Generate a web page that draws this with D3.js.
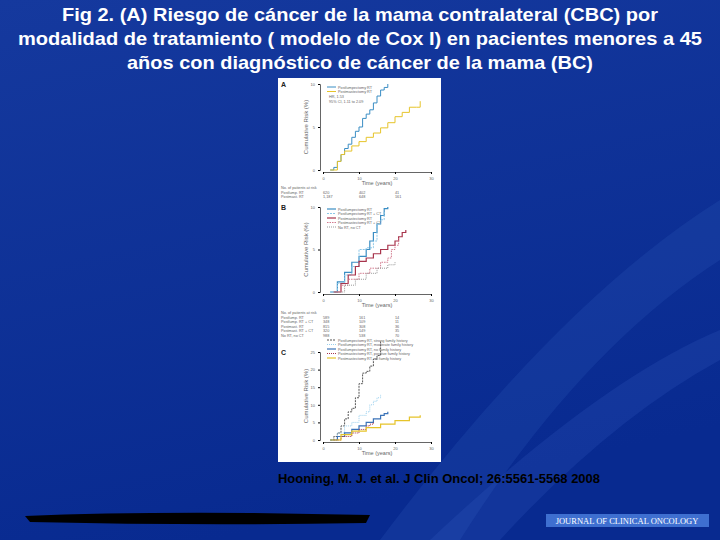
<!DOCTYPE html>
<html><head><meta charset="utf-8">
<script src="https://cdn.jsdelivr.net/npm/d3@7"></script>
<style>body{margin:0;background:#0b2a8c}svg{display:block}</style>
</head><body>
<svg id="canvas" width="720" height="540"></svg>
<script>
// Panel A: cumulative risk (%) by time (years)
var aBlue = [[2,0],[3,0.3],[4,1],[5,1.8],[6,2.5],[7,3],[8,3.8],[9,4.5],[10,5],[11,6],[12,6.5],[13,7],[14,7.8],[15,8.6],[16,9.3],[17,9.6],[18,10]];
var aYellow = [[2,0],[4,1],[5,1.8],[6,2.2],[8,2.8],[10,3.3],[12,3.8],[14,4.3],[16,4.9],[18,5.5],[20,6.2],[22,6.7],[24,7.3],[26,7.3],[27,8]];
var aLegend = ["Postlumpectomy RT", "Postmastectomy RT"];
// Panel B
var bPRT = [[2,0],[4,1.2],[6,2.3],[8,3.5],[10,4.2],[12,5],[13,6],[14,7],[15,8],[16,9],[17,9.8],[18,10]];
var bPRTCT = [[2,0],[4,1],[6,2],[8,3],[10,5],[12,5.2],[14,6],[15,8],[16,8.5],[17,9.5]];
var bPMRT = [[3,0],[5,1],[7,2],[9,3],[10,3.6],[12,4],[14,4.5],[16,5],[18,5.5],[20,6],[21,6.5],[22,7],[23,7.3]];
var bPMRTCT = [[3,0],[5,0.8],[7,1.5],[10,2.2],[13,2.8],[16,3.5],[18,4],[19,5],[20,5.5],[21,6.3]];
var bNone = [[3,0],[6,0.8],[9,1.5],[12,2.2],[15,2.8],[18,3.2],[20,3.5]];
var bLegend = ["Postlumpectomy RT", "Postlumpectomy RT + CT", "Postmastectomy RT", "Postmastectomy RT + CT", "No RT, no CT"];
// Panel C
var cStrong = [[2,0],[3,1],[4,2],[5,4],[6,6],[7,8],[8,9],[9,12],[10,16],[11,19],[12,19.5],[13,21],[14,23],[15,24],[16,28]];
var cModerate = [[2,0],[4,2],[6,4],[8,5],[10,7],[12,8],[13,10],[14,11],[15,12],[16,13]];
var cNoHist = [[2,0],[4,1],[6,2],[8,3],[10,4],[12,5],[14,6],[16,7],[17,7.5],[18,8]];
var cPosPM = [[3,0],[5,1],[8,2],[10,3],[12,4],[13,4.5],[14,5]];
var cNoPM = [[2,0],[5,1.5],[8,2.5],[12,3.5],[16,4.5],[20,5.5],[24,6.5],[27,7]];
var cLegend = ["Postlumpectomy RT, strong family history", "Postlumpectomy RT, moderate family history", "Postlumpectomy RT, no family history", "Postmastectomy RT, positive family history", "Postmastectomy RT, no family history"];
var xTicks = [0, 10, 20, 30];
var titleLines = ["Fig 2. (A) Riesgo de cáncer de la mama contralateral (CBC) por",
                  "modalidad de tratamiento ( modelo de Cox I) en pacientes menores a 45",
                  "años con diagnóstico de cáncer de la mama (BC)"];
var citation = "Hooning, M. J. et al. J Clin Oncol; 26:5561-5568 2008";

var svg = d3.select('#canvas');
var defs = svg.append('defs');
var g = defs.append('linearGradient').attr('id','bg').attr('x1',0).attr('y1',0).attr('x2',0.3).attr('y2',1);
g.append('stop').attr('offset','0').attr('stop-color','#15399e');
g.append('stop').attr('offset','1').attr('stop-color','#082a90');
svg.append('rect').attr('width',720).attr('height',540).attr('fill','url(#bg)');
// soft diagonal streaks
svg.append('path').attr('d','M380,540 Q560,300 720,200 L720,260 Q580,350 460,540 Z').attr('fill','#2a56b8').attr('opacity',0.25);
svg.append('path').attr('d','M430,540 Q600,380 720,330 L720,360 Q610,420 500,540 Z').attr('fill','#3a66c8').attr('opacity',0.2);

svg.selectAll('text.title').data(titleLines).join('text')
  .attr('x',360).attr('y',(d,i)=>21+i*24).attr('text-anchor','middle')
  .attr('fill','#fff').attr('font-family','Liberation Sans, Arial').attr('font-weight','bold').attr('font-size',18.5)
  .attr('textLength',(d,i)=>[596,684,466][i]).attr('lengthAdjust','spacingAndGlyphs').text(d=>d);

svg.append('rect').attr('x',278).attr('y',78).attr('width',163).attr('height',384).attr('fill','#fff');

var fig = svg.append('g').attr('font-family','Liberation Sans, Arial').attr('fill','#666');
var x = d3.scaleLinear().domain([0,30]).range([323,431]);

function panel(label, top, bottom, ymax, yTicks, series, legend, legendY) {
  var y = d3.scaleLinear().domain([0,ymax]).range([bottom, top]);
  var gx = fig.append('g').attr('transform','translate(0,'+(bottom+2)+')')
    .call(d3.axisBottom(x).tickValues(xTicks).tickSize(2));
  gx.select('.domain').attr('stroke','#666');
  gx.selectAll('text').attr('font-size',4).attr('fill','#666');
  var gy = fig.append('g').attr('transform','translate('+(x(0)-3)+',0)')
    .call(d3.axisLeft(y).tickValues(yTicks).tickSize(2));
  gy.select('.domain').attr('stroke','#666');
  gy.selectAll('text').attr('font-size',4).attr('fill','#666');
  fig.append('text').attr('x',377).attr('y',bottom+15).attr('text-anchor','middle').attr('font-size',5.5).text('Time (years)');
  fig.append('text').attr('transform','translate(308,'+((top+bottom)/2)+') rotate(-90)')
    .attr('text-anchor','middle').attr('font-size',6).text('Cumulative Risk (%)');
  fig.append('text').attr('x',281).attr('y',top+3).attr('font-size',7).attr('font-weight','bold').attr('fill','#222').text(label);
  var line = d3.line().x(d=>x(d[0])).y(d=>y(d[1])).curve(d3.curveStepAfter);
  series.forEach(function(s, i) {
    fig.append('path').attr('d',line(s.data)).attr('fill','none').attr('stroke',s.color)
      .attr('stroke-width',s.w||1).attr('stroke-dasharray',s.dash||null);
    fig.append('line').attr('x1',327).attr('x2',336).attr('y1',legendY+i*4.5).attr('y2',legendY+i*4.5)
      .attr('stroke',s.color).attr('stroke-width',s.w||1).attr('stroke-dasharray',s.dash||null);
    fig.append('text').attr('x',338).attr('y',legendY+i*4.5+1.5).attr('font-size',3.8).text(legend[i]);
  });
  return y;
}

panel('A', 84, 170, 10, [0,5,10], [
  {data:aBlue, color:'#3b8ec4'}, {data:aYellow, color:'#e6c42a'}], aLegend, 87);
fig.append('text').attr('x',329).attr('y',98).attr('font-size',3.8).text('HR, 1.53');
fig.append('text').attr('x',329).attr('y',103).attr('font-size',3.8).text('95% CI, 1.11 to 2.09');

panel('B', 207, 292, 10, [0,5,10], [
  {data:bPRT, color:'#3b8ec4', w:1.2},
  {data:bPRTCT, color:'#8cc7e8', dash:'2,1'},
  {data:bPMRT, color:'#a8344c', w:1.2},
  {data:bPMRTCT, color:'#d27a8e', dash:'1.5,1'},
  {data:bNone, color:'#999', dash:'1,1'}], bLegend, 209);

panel('C', 352, 440, 25, [0,5,10,15,20,25], [
  {data:cStrong, color:'#555', dash:'2,1'},
  {data:cModerate, color:'#9ad0ee', dash:'1,1'},
  {data:cNoHist, color:'#3b73b8', w:1.2},
  {data:cPosPM, color:'#a8344c', dash:'1,1'},
  {data:cNoPM, color:'#e6c42a', w:1.2}], cLegend, 340);

// numbers-at-risk tables
function riskTable(y0, rows) {
  fig.append('text').attr('x',281).attr('y',y0).attr('font-size',3.8).text('No. of patients at risk');
  rows.forEach(function(r, i) {
    var yy = y0 + 4.5*(i+1);
    fig.append('text').attr('x',281).attr('y',yy).attr('font-size',3.8).text(r[0]);
    [r[1],r[2],r[3]].forEach(function(v,j){
      fig.append('text').attr('x',x(xTicks[j])).attr('y',yy).attr('font-size',3.8).text(v);
    });
  });
}
riskTable(189, [['Postlump. RT','620','402','41'],['Postmast. RT','1,187','648','161']]);
riskTable(314, [['Postlump. RT','589','161','14'],['Postlump. RT + CT','348','109','11'],['Postmast. RT','815','308','36'],['Postmast. RT + CT','320','149','35'],['No RT, no CT','988','538','70']]);

svg.append('text').attr('x',278).attr('y',483).attr('font-family','Liberation Sans, Arial').attr('font-weight','bold')
  .attr('font-size',12).attr('textLength',322).attr('lengthAdjust','spacingAndGlyphs').attr('fill','#000').text(citation);

svg.append('path').attr('d','M25,516 Q120,512 250,513 L370,515 L366,523 Q200,526 30,522 Z').attr('fill','#000');
svg.append('rect').attr('x',546).attr('y',514).attr('width',163).attr('height',13).attr('fill','#3e6fd0');
svg.append('text').attr('x',627).attr('y',524).attr('text-anchor','middle').attr('font-family','Liberation Serif, serif')
  .attr('font-size',8.5).attr('fill','#fff').text('JOURNAL OF CLINICAL ONCOLOGY');
</script>
</body></html>
